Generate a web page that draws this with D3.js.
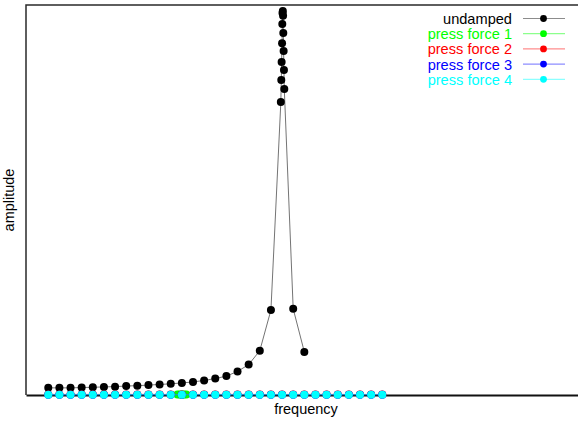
<!DOCTYPE html>
<html>
<head>
<meta charset="utf-8">
<script src="https://cdn.jsdelivr.net/npm/d3@7"></script>
<style>
  html, body { margin: 0; padding: 0; background: #fff; }
  svg { display: block; }
  text { font-family: "Liberation Sans", Arial, Helvetica, sans-serif; }
</style>
</head>
<body>
<svg id="chart" width="578" height="421"></svg>
<script>
// Frequency sweep of the undamped oscillator (refined near resonance)
const undampedFreq = [
  0.0, 0.1, 0.2, 0.3, 0.4, 0.5, 0.6, 0.7, 0.8, 0.9, 1.0,
  1.1, 1.2, 1.3, 1.4, 1.5, 1.6, 1.7, 1.8, 1.9, 2.0,
  2.089, 2.093, 2.096, 2.100, 2.102, 2.104,
  2.107, 2.109, 2.111, 2.114, 2.117, 2.120,
  2.2, 2.3
];
const undampedAmp = [
  0.23, 0.23, 0.23, 0.24, 0.25, 0.26, 0.27, 0.29, 0.30, 0.32, 0.34,
  0.36, 0.39, 0.42, 0.47, 0.53, 0.61, 0.76, 0.98, 1.43, 2.74,
  9.45, 10.16, 10.74, 11.35, 11.97, 12.32,
  12.39, 12.23, 11.68, 11.10, 10.48, 9.87,
  2.78, 1.39
];

// Damped responses (press force 1..4)
const press1Freq = [1.16, 1.18, 1.20, 1.22, 1.24];
const press1Amp  = [0.02, 0.02, 0.02, 0.02, 0.02];

const sweepFreq = [
  0.0, 0.1, 0.2, 0.3, 0.4, 0.5, 0.6, 0.7, 0.8, 0.9, 1.0,
  1.1, 1.2, 1.3, 1.4, 1.5, 1.6, 1.7, 1.8, 1.9, 2.0,
  2.1, 2.2, 2.3, 2.4, 2.5, 2.6, 2.7, 2.8, 2.9, 3.0
];
const press2Amp = [
  0.02, 0.02, 0.02, 0.02, 0.02, 0.02, 0.02, 0.02, 0.02, 0.02, 0.02,
  0.02, 0.02, 0.02, 0.02, 0.02, 0.02, 0.02, 0.02, 0.02, 0.02,
  0.02, 0.02, 0.02, 0.02, 0.02, 0.02, 0.02, 0.02, 0.02, 0.02
];
const press3Amp = [
  0.01, 0.01, 0.01, 0.01, 0.01, 0.01, 0.01, 0.01, 0.01, 0.01, 0.01,
  0.01, 0.01, 0.01, 0.01, 0.01, 0.01, 0.01, 0.01, 0.01, 0.01,
  0.01, 0.01, 0.01, 0.01, 0.01, 0.01, 0.01, 0.01, 0.01, 0.01
];
const press4Amp = [
  0.01, 0.01, 0.01, 0.01, 0.01, 0.01, 0.01, 0.01, 0.01, 0.01, 0.01,
  0.01, 0.01, 0.01, 0.01, 0.01, 0.01, 0.01, 0.01, 0.01, 0.01,
  0.01, 0.01, 0.01, 0.01, 0.01, 0.01, 0.01, 0.01, 0.01, 0.01
];

const seriesNames  = ["undamped", "press force 1", "press force 2", "press force 3", "press force 4"];
const seriesColors = ["#000000", "#00ff00", "#ff0000", "#0000ff", "#00ffff"];

const series = [
  { name: seriesNames[0], color: seriesColors[0], x: undampedFreq, y: undampedAmp },
  { name: seriesNames[1], color: seriesColors[1], x: press1Freq,   y: press1Amp },
  { name: seriesNames[2], color: seriesColors[2], x: sweepFreq,    y: press2Amp },
  { name: seriesNames[3], color: seriesColors[3], x: sweepFreq,    y: press3Amp },
  { name: seriesNames[4], color: seriesColors[4], x: sweepFreq,    y: press4Amp }
];

const svg = d3.select("#chart");
const plot = { left: 26, right: 586, top: 5, bottom: 395 };

const x = d3.scaleLinear().domain([-0.2, 4.83]).range([plot.left, plot.right]);
const y = d3.scaleLinear().domain([0, 12.58]).range([plot.bottom, plot.top]);

// Frame: top and left borders, bottom axis line
svg.append("path")
  .attr("d", `M${plot.right},${plot.top}H${plot.left}V${plot.bottom}`)
  .attr("fill", "none")
  .attr("stroke", "#2a2a2a")
  .attr("stroke-width", 1.5);

const xAxis = d3.axisBottom(x).tickValues([]).tickSizeOuter(0);
svg.append("g")
  .attr("transform", `translate(0,${plot.bottom})`)
  .call(xAxis)
  .call(g => g.select(".domain").attr("stroke", "#111").attr("stroke-width", 1.8));

// Series: connecting line then markers
const line = d3.line().x(d => x(d[0])).y(d => y(d[1]));

series.forEach(s => {
  const pts = s.x.map((f, i) => [f, s.y[i]]);
  const g = svg.append("g");
  g.append("path")
    .datum(pts)
    .attr("d", line)
    .attr("fill", "none")
    .attr("stroke", s.color)
    .attr("stroke-opacity", 0.55)
    .attr("stroke-width", 1);
  g.selectAll("circle")
    .data(pts)
    .join("circle")
    .attr("cx", d => x(d[0]))
    .attr("cy", d => y(d[1]))
    .attr("r", 4)
    .attr("fill", s.color);
});

// Axis titles
svg.append("text")
  .attr("x", (plot.left + plot.right) / 2)
  .attr("y", 414)
  .attr("text-anchor", "middle")
  .attr("font-size", "14.5px")
  .attr("fill", "#000")
  .text("frequency");

svg.append("text")
  .attr("transform", `translate(13.5,${(plot.top + plot.bottom) / 2}) rotate(-90)`)
  .attr("text-anchor", "middle")
  .attr("font-size", "14.5px")
  .attr("fill", "#000")
  .text("amplitude");

// Legend
const legend = svg.append("g");
series.forEach((s, i) => {
  const cy = 18.5 + i * 15.2;
  legend.append("text")
    .attr("x", 512)
    .attr("y", cy + 5.5)
    .attr("text-anchor", "end")
    .attr("font-size", "14.6px")
    .attr("fill", s.color)
    .text(s.name);
  legend.append("line")
    .attr("x1", 523).attr("x2", 565)
    .attr("y1", cy).attr("y2", cy)
    .attr("stroke", s.color)
    .attr("stroke-opacity", 0.45)
    .attr("stroke-width", 1.2);
  legend.append("circle")
    .attr("cx", 543.5).attr("cy", cy)
    .attr("r", 3.4)
    .attr("fill", s.color);
});
</script>
</body>
</html>
